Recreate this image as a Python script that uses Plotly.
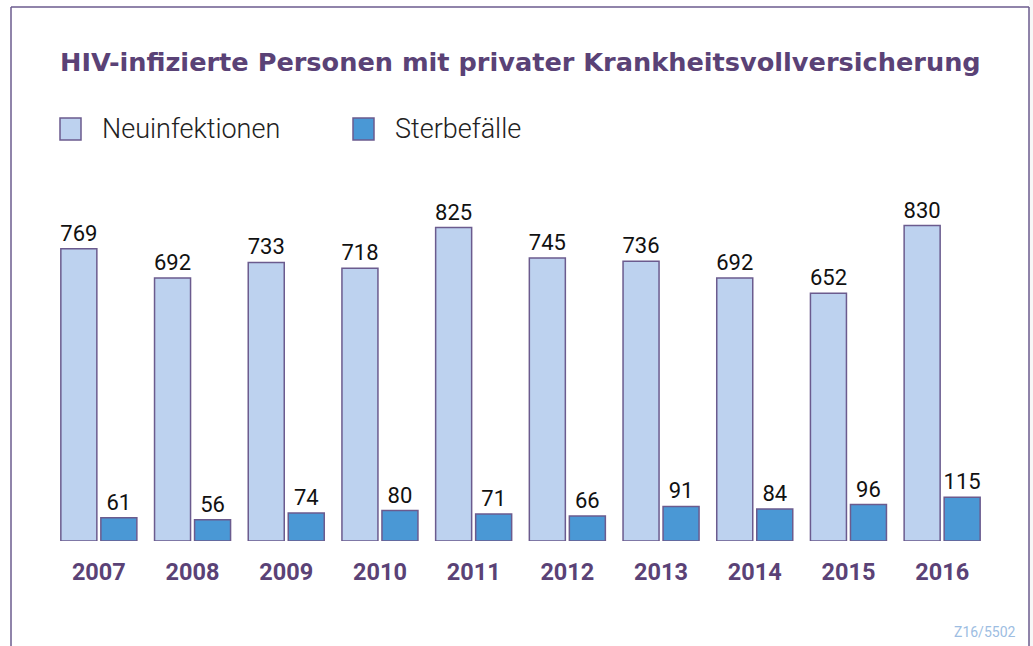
import plotly.graph_objects as go

years = ["2007", "2008", "2009", "2010", "2011", "2012", "2013", "2014", "2015", "2016"]
neuinfektionen = [769, 692, 733, 718, 825, 745, 736, 692, 652, 830]
sterbefaelle = [61, 56, 74, 80, 71, 66, 91, 84, 96, 115]

W, H = 1033, 646
PURPLE = "#5a4276"
OUTLINE = "#6b5b8e"
LIGHT = "#bdd2ef"
DARK = "#4a98d5"
FONT = "Roboto"

fig = go.Figure()
for name, vals, col in [("Neuinfektionen", neuinfektionen, LIGHT),
                        ("Sterbefälle", sterbefaelle, DARK)]:
    fig.add_trace(go.Bar(
        x=years, y=vals, name=name,
        marker=dict(color=col, line=dict(color=OUTLINE, width=1.5)),
        text=vals, texttemplate="%{text}", textposition="outside",
        textfont=dict(family=FONT, size=22, color="#111111"),
        constraintext="none", cliponaxis=False, showlegend=False,
    ))

def px(x):
    return x / W

def py(y):
    return 1 - y / H

fig.update_layout(
    width=W, height=H,
    margin=dict(l=0, r=0, t=0, b=0),
    paper_bgcolor="white", plot_bgcolor="white",
    barmode="group", bargap=0.146, bargroupgap=0.1,
    xaxis=dict(domain=[px(52), px(989)], showgrid=False, zeroline=False,
               showline=False, ticks="", ticklabelstandoff=14,
               tickfont=dict(family=FONT, size=23.5, color=PURPLE, weight="bold")),
    yaxis=dict(domain=[py(541), py(199)], range=[0, 900], visible=False),
)

# frame lines and grey strip at the right edge
fig.add_shape(type="rect", xref="paper", yref="paper", x0=px(1029), x1=1, y0=0, y1=1,
              fillcolor="#f7f7f7", line=dict(width=0), layer="below")
fig.add_shape(type="line", xref="paper", yref="paper", x0=px(11), x1=px(1029), y0=py(7), y1=py(7),
              line=dict(color=OUTLINE, width=1.5))
fig.add_shape(type="line", xref="paper", yref="paper", x0=px(11), x1=px(11), y0=0, y1=py(7),
              line=dict(color=OUTLINE, width=1.5))
fig.add_shape(type="line", xref="paper", yref="paper", x0=px(1029), x1=px(1029), y0=0, y1=py(7),
              line=dict(color=OUTLINE, width=1.5))

# title
fig.add_annotation(text="HIV-infizierte Personen mit privater Krankheitsvollversicherung",
                   xref="paper", yref="paper", x=px(58), y=py(62), xanchor="left", yanchor="middle",
                   showarrow=False,
                   font=dict(family="DejaVu Sans", size=25.6, color=PURPLE, weight="bold"))

# legend
for x0, col, label in [(60, LIGHT, "Neuinfektionen"), (353, DARK, "Sterbefälle")]:
    fig.add_shape(type="rect", xref="paper", yref="paper", x0=px(x0), x1=px(x0 + 21),
                  y0=py(140), y1=py(118), fillcolor=col, line=dict(color=OUTLINE, width=1.5))
    fig.add_annotation(text=label, xref="paper", yref="paper", x=px(x0 + 40), y=py(129),
                       xanchor="left", yanchor="middle", showarrow=False,
                       font=dict(family=FONT, size=27, color="#222222", weight=300))

fig.add_annotation(text="Z16/5502", xref="paper", yref="paper", x=px(1018), y=py(632),
                   xanchor="right", yanchor="middle", showarrow=False,
                   font=dict(family=FONT, size=14, color="#9dbde2"))

fig.write_html("out.html")
